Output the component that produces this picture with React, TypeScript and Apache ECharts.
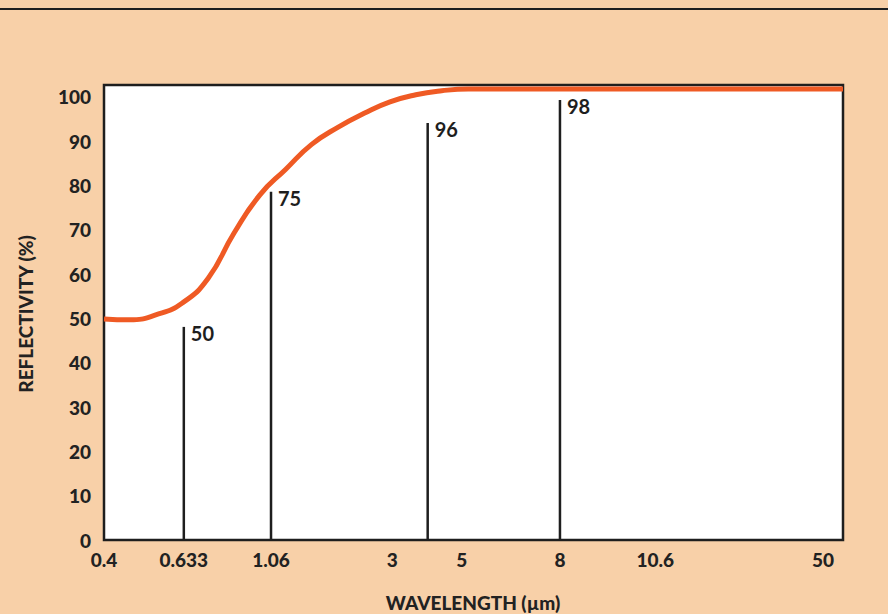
import React, { useEffect, useRef } from "react";
import * as echarts from "echarts";

// X axis: tick positions (in % of the plot width) and their wavelength labels (µm)
const tickPos = [0, 10.8, 22.6, 39.0, 48.4, 61.7, 74.6, 97.3];
const tickLabels = ["0.4", "0.633", "1.06", "3", "5", "8", "10.6", "50"];

// Y axis tick labels (reflectivity %)
const yTicks = [0, 10, 20, 30, 40, 50, 60, 70, 80, 90, 100];

// Reflectivity curve (x in axis position units, y in %)
const curvePos = [0, 3.5, 7.0, 10.6, 14.1, 17.6, 21.1, 24.6, 28.1, 31.7, 35.2, 38.7, 42.2, 45.7, 49.3, 60, 100];
const curveReflect = [49.9, 49.7, 50.8, 53.5, 59.1, 69.3, 77.9, 83.7, 89.3, 93.2, 96.3, 98.9, 100.5, 101.4, 101.8, 101.8, 101.8];

// Marker lines at laser wavelengths
const markerPos = [10.8, 22.6, 43.8, 61.7];
const markerHeight = [48.1, 78.6, 94.1, 99.3];
const markerLabels = ["50", "75", "96", "98"];

const FONT = "Lato, 'DejaVu Sans', sans-serif";

export default function App() {
  const ref = useRef<HTMLDivElement>(null);
  useEffect(() => {
    document.body.style.margin = "0";
    const chart = echarts.init(ref.current!, undefined, { renderer: "svg" });
    const option: any = {
      animation: false,
      backgroundColor: "#f8d0a8",
      grid: {
        left: 104,
        right: 45,
        top: 85,
        bottom: 74,
        show: true,
        backgroundColor: "#ffffff",
        borderColor: "#1e1e1e",
        borderWidth: 2.5,
      },
      xAxis: {
        type: "value",
        min: 0,
        max: 100,
        axisLine: { show: false },
        axisTick: { show: false },
        splitLine: { show: false },
        axisLabel: {
          customValues: tickPos,
          margin: 10,
          color: "#222",
          fontFamily: FONT,
          fontWeight: 900,
          fontSize: 19,
          formatter: (v: number) => {
            const i = tickPos.findIndex((p) => Math.abs(p - v) < 0.01);
            return i >= 0 ? tickLabels[i] : "";
          },
        },
      },
      yAxis: {
        type: "value",
        min: 0,
        max: 102.7,
        axisLine: { show: false },
        axisTick: { show: false },
        splitLine: { show: false },
        axisLabel: {
          customValues: yTicks,
          margin: 13,
          color: "#222",
          fontFamily: FONT,
          fontWeight: 900,
          fontSize: 19,
        },
      },
      graphic: [
        {
          type: "line",
          shape: { x1: 0, y1: 9, x2: 888, y2: 9 },
          style: { stroke: "#1e1e1e", lineWidth: 2 },
        },
        {
          type: "text",
          x: 25,
          y: 314,
          rotation: Math.PI / 2,
          style: {
            text: "REFLECTIVITY (%)",
            fill: "#222",
            font: `900 19px ${FONT}`,
            align: "center",
            verticalAlign: "middle",
          },
        },
        {
          type: "text",
          x: 473,
          y: 602,
          style: {
            text: "WAVELENGTH (µm)",
            fill: "#222",
            font: `900 19px ${FONT}`,
            align: "center",
            verticalAlign: "middle",
          },
        },
      ],
      series: [
        {
          type: "custom",
          z: 2,
          data: markerPos.map((p, i) => [p, markerHeight[i], i]),
          renderItem: (params: any, api: any) => {
            const x = api.value(0);
            const h = api.value(1);
            const idx = api.value(2);
            const p0 = api.coord([x, 0]);
            const p1 = api.coord([x, h]);
            return {
              type: "group",
              children: [
                {
                  type: "line",
                  shape: { x1: p0[0], y1: p0[1], x2: p1[0], y2: p1[1] },
                  style: { stroke: "#1e1e1e", lineWidth: 2.5 },
                },
                {
                  type: "text",
                  x: p1[0] + 7,
                  y: p1[1] - 4,
                  style: {
                    text: markerLabels[idx],
                    fill: "#1e1e1e",
                    font: `bold 20px ${FONT}`,
                    align: "left",
                    verticalAlign: "top",
                  },
                },
              ],
            };
          },
        },
        {
          type: "line",
          z: 3,
          smooth: 0.5,
          symbol: "none",
          data: curvePos.map((p, i) => [p, curveReflect[i]]),
          lineStyle: { color: "#ef5a24", width: 5 },
        },
      ],
    };
    chart.setOption(option);
    return () => chart.dispose();
  }, []);
  return <div ref={ref} style={{ width: 888, height: 614 }} />;
}
